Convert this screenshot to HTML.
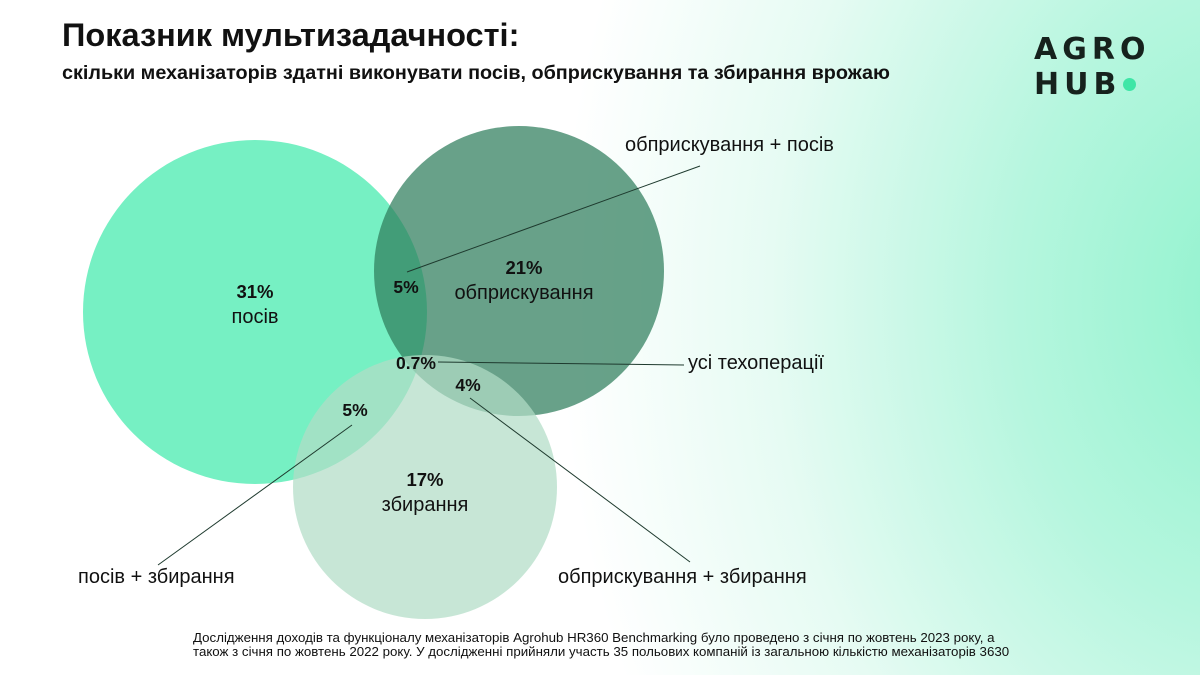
<!DOCTYPE html>
<html><head><meta charset="utf-8"><style>
html,body{margin:0;padding:0;}
body{width:1200px;height:675px;overflow:hidden;position:relative;font-family:"Liberation Sans",sans-serif;color:#111;
background:radial-gradient(ellipse 700px 900px at 1260px 300px,#8ff2cd 0%,#b5f6de 35%,#e6fbf3 70%,#ffffff 100%);}
.t{position:absolute;white-space:nowrap;}
</style></head><body>
<div class="t" style="left:62px;top:17px;font-size:32.5px;font-weight:bold;">Показник мультизадачності:</div>
<div class="t" style="left:62px;top:62px;font-size:19.8px;font-weight:bold;">скільки механізаторів здатні виконувати посів, обприскування та збирання врожаю</div>
<div style="position:absolute;left:1034px;top:32px;font-family:'DejaVu Sans',sans-serif;font-weight:bold;font-size:30px;letter-spacing:5px;line-height:35px;color:#16221d;">AGRO<br>HUB<span style="display:inline-block;width:13px;height:13px;border-radius:50%;background:#3ee6a6;margin-left:2px;vertical-align:3px;"></span></div>
<svg id="venn" width="1200" height="675" style="position:absolute;left:0;top:0;font-family:'Liberation Sans',sans-serif;"></svg>
<div class="t" style="left:193px;top:631px;font-family:'Liberation Sans Narrow','Liberation Sans',sans-serif;font-size:13.3px;line-height:14px;">Дослідження доходів та функціоналу механізаторів Agrohub HR360 Benchmarking було проведено з січня по жовтень 2023 року, а<br>також з січня по жовтень 2022 року. У дослідженні прийняли участь 35 польових компаній із загальною кількістю механізаторів 3630</div>
<script>
const setNames=["посів","обприскування","збирання"];
const setValues=["31%","21%","17%"];
const overlapNames=["обприскування + посів","усі техоперації","посів + збирання","обприскування + збирання"];
const overlapValues=["5%","0.7%","5%","4%"];
const svg=document.getElementById('venn');
const NS='http://www.w3.org/2000/svg';
function mk(tag,attrs,parent){const e=document.createElementNS(NS,tag);for(const k in attrs)e.setAttribute(k,attrs[k]);(parent||svg).appendChild(e);return e;}
const circ=[{cx:255,cy:312,r:172,fill:'#76f0c3',op:1},{cx:519,cy:271,r:145,fill:'#2e7d5b',op:0.72},{cx:425,cy:487,r:132,fill:'#b2dcc6',op:0.72}];
circ.forEach((c,i)=>{const e=mk('circle',{cx:c.cx,cy:c.cy,r:c.r,fill:c.fill,'fill-opacity':c.op});

});
const setPos=[[255,298],[524,274],[425,486]];
setNames.forEach((n,i)=>{
 const v=mk('text',{x:setPos[i][0],y:setPos[i][1],'text-anchor':'middle','font-size':18.5,'font-weight':'bold',fill:'#111'});v.textContent=setValues[i];
 
 
 const l=mk('text',{x:setPos[i][0],y:setPos[i][1]+25,'text-anchor':'middle','font-size':20,fill:'#111'});l.textContent=n;
 
 
});
const ovPos=[[406,293],[416,369],[355,416],[468,391]];
const lblPos=[[625,151,'start'],[688,369,'start'],[78,583,'start'],[558,583,'start']];
const lineEnds=[[[407,272],[700,166]],[[438,362],[684,365]],[[352,425],[158,565]],[[470,398],[690,562]]];
overlapNames.forEach((n,i)=>{
 const ln=mk('line',{x1:lineEnds[i][0][0],y1:lineEnds[i][0][1],x2:lineEnds[i][1][0],y2:lineEnds[i][1][1],stroke:'#1e3a2e','stroke-width':1});
 
 
 const v=mk('text',{x:ovPos[i][0],y:ovPos[i][1],'text-anchor':'middle','font-size':17.5,'font-weight':'bold',fill:'#111'});v.textContent=overlapValues[i];
 
 
 const l=mk('text',{x:lblPos[i][0],y:lblPos[i][1],'text-anchor':lblPos[i][2],'font-size':20,fill:'#111'});l.textContent=n;
 
 
});
</script>
</body></html>
